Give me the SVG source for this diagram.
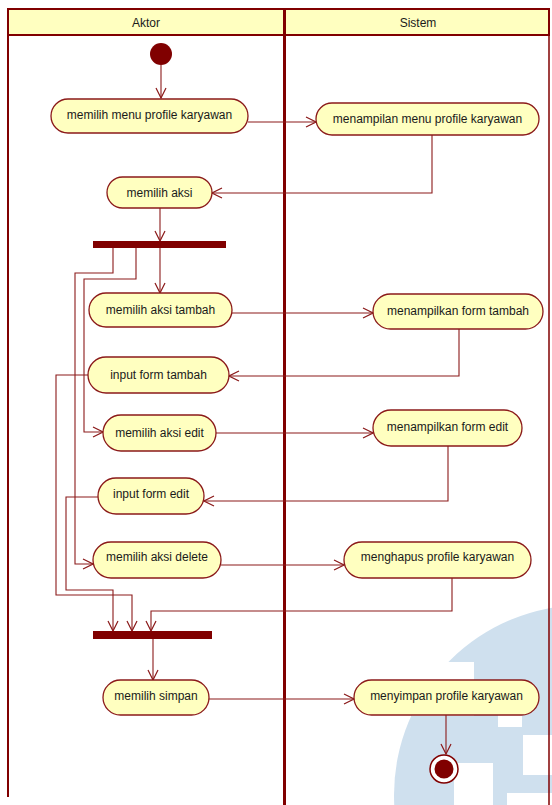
<svg xmlns="http://www.w3.org/2000/svg" width="552" height="805" viewBox="0 0 552 805">
  <style>
    .lane { fill: none; stroke: #800000; }
    .hdr { fill: #ffffc0; stroke: #800000; stroke-width: 2; }
    .act { fill: #ffffc0; stroke: #8b1a1a; stroke-width: 1.3; }
    .lbl { font-family: "Liberation Sans", Arial, sans-serif; font-size: 12px; fill: #1a1a1a; text-anchor: middle; dominant-baseline: central; }
    .flow { fill: none; stroke: #8b1a1a; stroke-width: 1.1; marker-end: url(#open); }
    .bar { fill: #800000; }
    .wm { fill: #cfe0ee; }
  </style>
  <defs>
    <marker id="open" markerUnits="userSpaceOnUse" markerWidth="12" markerHeight="12" refX="11" refY="6" orient="auto">
      <path d="M1,1 L11,6 L1,11" fill="none" stroke="#8b1a1a" stroke-width="1.2"/>
    </marker>
    <clipPath id="page"><rect x="0" y="0" width="552" height="805"/></clipPath>
  </defs>

  <!-- faint logo in the lower right corner -->
  <g id="logo" clip-path="url(#page)">
    <circle class="wm" cx="584" cy="795" r="190"/>
    <rect x="412" y="662" width="62" height="54" fill="#fff"/>
    <rect x="498" y="715" width="24" height="12" fill="#fff"/>
    <rect x="523" y="735" width="30" height="40" fill="#fff"/>
    <rect x="454" y="763" width="39" height="42" fill="#fff"/>
    <rect x="507" y="793" width="45" height="12" fill="#fff"/>
  </g>

  <!-- swimlanes -->
  <g id="lanes">
    <rect class="hdr" x="8" y="9" width="541" height="26"/>
    <line class="lane" x1="8" y1="9" x2="8" y2="797" stroke-width="2"/>
    <line class="lane" x1="549" y1="9" x2="549" y2="805" stroke-width="1.5"/>
    <line class="lane" x1="284.5" y1="9" x2="284.5" y2="805" stroke-width="3"/>
    <text class="lbl" x="146" y="23">Aktor</text>
    <text class="lbl" x="418" y="23">Sistem</text>
  </g>

  <!-- control flows -->
  <g id="connectors">
    <path class="flow" d="M161,65 V98"/>
    <path class="flow" d="M248,122 H316"/>
    <path class="flow" d="M432,135 V193 H212"/>
    <path class="flow" d="M160,208 V241"/>
    <path class="flow" d="M160,248 V293"/>
    <path class="flow" d="M113,248 V273 H75 V564 H93"/>
    <path class="flow" d="M136,248 V279 H84 V432 H103"/>
    <path class="flow" d="M232,313 H373"/>
    <path class="flow" d="M459,329 V376 H229"/>
    <path class="flow" d="M88,375 H56 V595 H132 V631"/>
    <path class="flow" d="M216,433 H373"/>
    <path class="flow" d="M448,446 V501 H204"/>
    <path class="flow" d="M98,497 H66 V590 H113 V631"/>
    <path class="flow" d="M221,565 H344"/>
    <path class="flow" d="M452,578 V611 H151 V631"/>
    <path class="flow" d="M153,639 V680"/>
    <path class="flow" d="M209,699 H354"/>
    <path class="flow" d="M446,715 V754"/>
  </g>

  <g id="start"><circle cx="161" cy="54" r="11" fill="#800000"/></g>

  <g id="n-menu">
    <rect class="act" x="51" y="99" width="197" height="34" rx="17"/>
    <text class="lbl" x="149.5" y="115">memilih menu profile karyawan</text>
  </g>
  <g id="n-tampil-menu">
    <rect class="act" x="316" y="103" width="223" height="32" rx="16"/>
    <text class="lbl" x="427.5" y="119">menampilan menu profile karyawan</text>
  </g>
  <g id="n-aksi">
    <rect class="act" x="107" y="177" width="105" height="31" rx="15.5"/>
    <text class="lbl" x="159.5" y="192.5">memilih aksi</text>
  </g>
  <g id="fork"><rect class="bar" x="93" y="241" width="133" height="7"/></g>
  <g id="n-aksi-tambah">
    <rect class="act" x="89" y="293" width="143" height="34" rx="17"/>
    <text class="lbl" x="160.5" y="310">memilih aksi tambah</text>
  </g>
  <g id="n-form-tambah">
    <rect class="act" x="373" y="294" width="170" height="35" rx="17.5"/>
    <text class="lbl" x="458" y="311">menampilkan form tambah</text>
  </g>
  <g id="n-input-tambah">
    <rect class="act" x="88" y="357" width="141" height="36" rx="18"/>
    <text class="lbl" x="158.5" y="374.5">input form tambah</text>
  </g>
  <g id="n-aksi-edit">
    <rect class="act" x="103" y="415" width="113" height="36" rx="18"/>
    <text class="lbl" x="159.5" y="432.5">memilih aksi edit</text>
  </g>
  <g id="n-form-edit">
    <rect class="act" x="373" y="410" width="149" height="36" rx="18"/>
    <text class="lbl" x="447.5" y="427">menampilkan form edit</text>
  </g>
  <g id="n-input-edit">
    <rect class="act" x="98" y="478" width="106" height="36" rx="18"/>
    <text class="lbl" x="151" y="494">input form edit</text>
  </g>
  <g id="n-aksi-delete">
    <rect class="act" x="93" y="542" width="128" height="36" rx="18"/>
    <text class="lbl" x="157" y="557">memilih aksi delete</text>
  </g>
  <g id="n-hapus">
    <rect class="act" x="344" y="542" width="187" height="36" rx="18"/>
    <text class="lbl" x="437.5" y="557">menghapus profile karyawan</text>
  </g>
  <g id="join"><rect class="bar" x="93" y="631" width="119" height="8"/></g>
  <g id="n-simpan">
    <rect class="act" x="103" y="680" width="106" height="35" rx="17.5"/>
    <text class="lbl" x="156" y="696">memilih simpan</text>
  </g>
  <g id="n-menyimpan">
    <rect class="act" x="354" y="680" width="185" height="35" rx="17.5"/>
    <text class="lbl" x="446.5" y="696">menyimpan profile karyawan</text>
  </g>
  <g id="end">
    <circle cx="444" cy="769" r="14" fill="#fff" stroke="#800000" stroke-width="1.5"/>
    <circle cx="444" cy="769" r="9.5" fill="#800000"/>
  </g>
</svg>
